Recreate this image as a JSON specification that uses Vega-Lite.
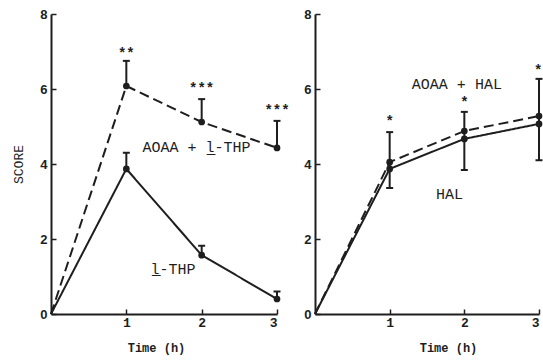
{
  "$schema": "https://vega.github.io/schema/vega-lite/v6.json",
  "background": "white",
  "padding": {"left": 12, "top": 8, "right": 0, "bottom": 3},
  "spacing": 13,
  "config": {
    "view": {"stroke": null},
    "axis": {
      "grid": false,
      "domainColor": "#1e1e1e",
      "domainWidth": 2,
      "tickColor": "#1e1e1e",
      "tickWidth": 1.5,
      "tickSize": -5,
      "labelColor": "#1e1e1e",
      "titleColor": "#1e1e1e"
    },
    "axisX": {
      "labelFont": "Liberation Mono",
      "labelFontSize": 13,
      "labelFontWeight": "bold",
      "labelPadding": 7,
      "format": "d",
      "titleFont": "Liberation Mono",
      "titleFontSize": 12,
      "titleFontWeight": "bold",
      "titlePadding": 13
    },
    "axisY": {
      "labelFont": "Liberation Sans",
      "labelFontSize": 13,
      "labelFontWeight": "bold",
      "labelPadding": 9,
      "titleFont": "Liberation Mono",
      "titleFontSize": 13,
      "titleFontWeight": "normal",
      "titlePadding": 14
    }
  },
  "datasets": {
    "lines": [
      {"panel": "A", "series": "combo", "time": 0, "score": 0},
      {"panel": "A", "series": "combo", "time": 1, "score": 6.08},
      {"panel": "A", "series": "combo", "time": 2, "score": 5.12},
      {"panel": "A", "series": "combo", "time": 3, "score": 4.43},
      {"panel": "A", "series": "single", "time": 0, "score": 0},
      {"panel": "A", "series": "single", "time": 1, "score": 3.87},
      {"panel": "A", "series": "single", "time": 2, "score": 1.57},
      {"panel": "A", "series": "single", "time": 3, "score": 0.4},
      {"panel": "B", "series": "combo", "time": 0, "score": 0},
      {"panel": "B", "series": "combo", "time": 1, "score": 4.05},
      {"panel": "B", "series": "combo", "time": 2, "score": 4.88},
      {"panel": "B", "series": "combo", "time": 3, "score": 5.28},
      {"panel": "B", "series": "single", "time": 0, "score": 0},
      {"panel": "B", "series": "single", "time": 1, "score": 3.87},
      {"panel": "B", "series": "single", "time": 2, "score": 4.67},
      {"panel": "B", "series": "single", "time": 3, "score": 5.07}
    ],
    "errors": [
      {"panel": "A", "time": 1, "lo": 6.08, "hi": 6.75},
      {"panel": "A", "time": 2, "lo": 5.12, "hi": 5.73},
      {"panel": "A", "time": 3, "lo": 4.43, "hi": 5.15},
      {"panel": "A", "time": 1, "lo": 3.87, "hi": 4.3},
      {"panel": "A", "time": 2, "lo": 1.57, "hi": 1.82},
      {"panel": "A", "time": 3, "lo": 0.4, "hi": 0.6},
      {"panel": "B", "time": 1, "lo": 3.36, "hi": 4.85},
      {"panel": "B", "time": 2, "lo": 3.84, "hi": 5.39},
      {"panel": "B", "time": 3, "lo": 4.1, "hi": 6.27}
    ],
    "caps": [
      {"panel": "A", "time": 1, "y": 6.75},
      {"panel": "A", "time": 2, "y": 5.73},
      {"panel": "A", "time": 3, "y": 5.15},
      {"panel": "A", "time": 1, "y": 4.3},
      {"panel": "A", "time": 2, "y": 1.82},
      {"panel": "A", "time": 3, "y": 0.6},
      {"panel": "B", "time": 1, "y": 4.85},
      {"panel": "B", "time": 2, "y": 5.39},
      {"panel": "B", "time": 3, "y": 6.27},
      {"panel": "B", "time": 1, "y": 3.36},
      {"panel": "B", "time": 2, "y": 3.84},
      {"panel": "B", "time": 3, "y": 4.1}
    ],
    "stars": [
      {"panel": "A", "time": 1, "y": 6.93, "label": "**"},
      {"panel": "A", "time": 2, "y": 6.0, "label": "***"},
      {"panel": "A", "time": 3, "y": 5.41, "label": "***"},
      {"panel": "B", "time": 1, "y": 5.12, "label": "*"},
      {"panel": "B", "time": 2, "y": 5.63, "label": "*"},
      {"panel": "B", "time": 2.99, "y": 6.48, "label": "*"}
    ],
    "labels": [
      {"panel": "A", "time": 1.93, "y": 4.45, "text": "AOAA + l̲-THP"},
      {"panel": "A", "time": 1.62, "y": 1.2, "text": "l̲-THP"},
      {"panel": "B", "time": 1.9, "y": 6.13, "text": "AOAA + HAL"},
      {"panel": "B", "time": 1.8, "y": 3.2, "text": "HAL"}
    ]
  },
  "hconcat": [
    {
      "width": 226,
      "height": 300,
      "layer": [
        {
          "data": {"name": "lines"},
          "transform": [{"filter": "datum.panel == 'A'"}],
          "mark": {"type": "line", "color": "#1e1e1e", "strokeWidth": 2},
          "encoding": {
            "x": {"field": "time", "type": "quantitative", "scale": {"domain": [0, 3], "nice": false}, "axis": {"values": [1, 2, 3], "title": "Time (h)", "titleX": 105}},
            "y": {"field": "score", "type": "quantitative", "scale": {"domain": [0, 8], "nice": false}, "axis": {"values": [0, 2, 4, 6, 8], "title": "SCORE"}},
            "strokeDash": {"field": "series", "type": "nominal", "scale": {"domain": ["combo", "single"], "range": [[10, 5], [1, 0]]}, "legend": null}
          }
        },
        {
          "data": {"name": "lines"},
          "transform": [{"filter": "datum.panel == 'A' && datum.time > 0"}],
          "mark": {"type": "point", "filled": true, "opacity": 1, "color": "#1e1e1e", "size": 45},
          "encoding": {
            "x": {"field": "time", "type": "quantitative"},
            "y": {"field": "score", "type": "quantitative"}
          }
        },
        {
          "data": {"name": "errors"},
          "transform": [{"filter": "datum.panel == 'A'"}],
          "mark": {"type": "rule", "color": "#1e1e1e", "strokeWidth": 2},
          "encoding": {
            "x": {"field": "time", "type": "quantitative"},
            "y": {"field": "lo", "type": "quantitative"},
            "y2": {"field": "hi"}
          }
        },
        {
          "data": {"name": "caps"},
          "transform": [{"filter": "datum.panel == 'A'"}],
          "mark": {"type": "tick", "orient": "horizontal", "color": "#1e1e1e", "size": 7, "thickness": 2, "opacity": 1},
          "encoding": {
            "x": {"field": "time", "type": "quantitative"},
            "y": {"field": "y", "type": "quantitative"}
          }
        },
        {
          "data": {"name": "stars"},
          "transform": [{"filter": "datum.panel == 'A'"}],
          "mark": {"type": "text", "font": "Liberation Mono", "fontSize": 14, "fontWeight": "bold", "color": "#1e1e1e"},
          "encoding": {
            "x": {"field": "time", "type": "quantitative"},
            "y": {"field": "y", "type": "quantitative"},
            "text": {"field": "label"}
          }
        },
        {
          "data": {"name": "labels"},
          "transform": [{"filter": "datum.panel == 'A'"}],
          "mark": {"type": "text", "font": "Liberation Mono", "fontSize": 15, "color": "#1e1e1e"},
          "encoding": {
            "x": {"field": "time", "type": "quantitative"},
            "y": {"field": "y", "type": "quantitative"},
            "text": {"field": "text"}
          }
        }
      ]
    },
    {
      "width": 224,
      "height": 300,
      "layer": [
        {
          "data": {"name": "lines"},
          "transform": [{"filter": "datum.panel == 'B'"}],
          "mark": {"type": "line", "color": "#1e1e1e", "strokeWidth": 2},
          "encoding": {
            "x": {"field": "time", "type": "quantitative", "scale": {"domain": [0, 3], "nice": false}, "axis": {"values": [1, 2, 3], "title": "Time (h)", "titleX": 133}},
            "y": {"field": "score", "type": "quantitative", "scale": {"domain": [0, 8], "nice": false}, "axis": {"values": [0, 2, 4, 6, 8], "title": null}},
            "strokeDash": {"field": "series", "type": "nominal", "scale": {"domain": ["combo", "single"], "range": [[6, 4], [1, 0]]}, "legend": null}
          }
        },
        {
          "data": {"name": "lines"},
          "transform": [{"filter": "datum.panel == 'B' && datum.time > 0"}],
          "mark": {"type": "point", "filled": true, "opacity": 1, "color": "#1e1e1e", "size": 45},
          "encoding": {
            "x": {"field": "time", "type": "quantitative"},
            "y": {"field": "score", "type": "quantitative"}
          }
        },
        {
          "data": {"name": "errors"},
          "transform": [{"filter": "datum.panel == 'B'"}],
          "mark": {"type": "rule", "color": "#1e1e1e", "strokeWidth": 2},
          "encoding": {
            "x": {"field": "time", "type": "quantitative"},
            "y": {"field": "lo", "type": "quantitative"},
            "y2": {"field": "hi"}
          }
        },
        {
          "data": {"name": "caps"},
          "transform": [{"filter": "datum.panel == 'B'"}],
          "mark": {"type": "tick", "orient": "horizontal", "color": "#1e1e1e", "size": 7, "thickness": 2, "opacity": 1},
          "encoding": {
            "x": {"field": "time", "type": "quantitative"},
            "y": {"field": "y", "type": "quantitative"}
          }
        },
        {
          "data": {"name": "stars"},
          "transform": [{"filter": "datum.panel == 'B'"}],
          "mark": {"type": "text", "font": "Liberation Mono", "fontSize": 14, "fontWeight": "bold", "color": "#1e1e1e"},
          "encoding": {
            "x": {"field": "time", "type": "quantitative"},
            "y": {"field": "y", "type": "quantitative"},
            "text": {"field": "label"}
          }
        },
        {
          "data": {"name": "labels"},
          "transform": [{"filter": "datum.panel == 'B'"}],
          "mark": {"type": "text", "font": "Liberation Mono", "fontSize": 15, "color": "#1e1e1e"},
          "encoding": {
            "x": {"field": "time", "type": "quantitative"},
            "y": {"field": "y", "type": "quantitative"},
            "text": {"field": "text"}
          }
        }
      ]
    }
  ]
}
